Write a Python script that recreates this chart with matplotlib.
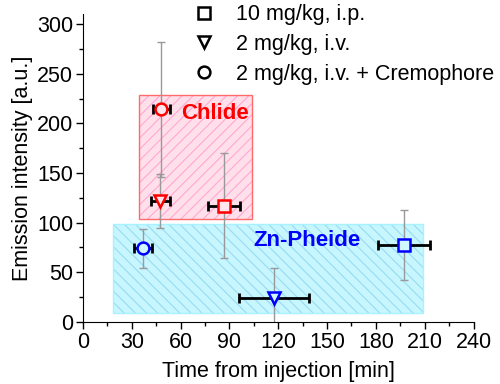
import matplotlib.pyplot as plt
from matplotlib.patches import Rectangle
from matplotlib.lines import Line2D
from matplotlib.ticker import MultipleLocator

plt.rcParams['font.family'] = ['Liberation Sans', 'DejaVu Sans']
plt.rcParams['hatch.linewidth'] = 0.8

# Chlide (red)
chl_x = [86.6, 47.6, 48.2]
chl_y = [116.8, 122, 214]
chl_xerr = [10, 6, 5.4]
chl_yerr = [53, 27, 68]

# Zn-Pheide (blue)
zn_x = [197, 117.4, 36.9]
zn_y = [77.2, 24, 73.9]
zn_xerr = [16, 21.7, 5.3]
zn_yerr = [35, 30, 20]

markers = ['s', 'v', 'o']
legend_labels = ['10 mg/kg, i.p.', '2 mg/kg, i.v.', '2 mg/kg, i.v. + Cremophore']

# shaded regions: (x0, x1, y0, y1)
chl_box = (34.5, 104, 104, 229)
zn_box = (18.3, 208.8, 9, 99)

fig = plt.figure(figsize=(5, 3.84), dpi=100)
ax = fig.add_axes([0.166, 0.162, 0.781, 0.801])


def add_box(box, fill, hatch_color, edge, hatch):
    x0, x1, y0, y1 = box
    ax.add_patch(Rectangle((x0, y0), x1 - x0, y1 - y0, facecolor=fill, edgecolor='none', zorder=1))
    ax.add_patch(Rectangle((x0, y0), x1 - x0, y1 - y0, facecolor='none', edgecolor=hatch_color,
                           hatch=hatch, linewidth=0, zorder=1.1))
    ax.add_patch(Rectangle((x0, y0), x1 - x0, y1 - y0, facecolor='none', edgecolor=edge,
                           linewidth=1, zorder=1.2))


add_box(chl_box, '#ffe0ea', '#ffa6d2', '#ff6a6a', '///')
add_box(zn_box, '#c8f6ff', '#96dcf2', '#a8f2ff', '\\\\\\')


def plot_series(xs, ys, xerr, yerr, color, face):
    for x, y, xe, ye, m in zip(xs, ys, xerr, yerr, markers):
        ax.errorbar(x, y, yerr=ye, fmt='none', ecolor='#999999', elinewidth=1,
                    capsize=3, capthick=1, zorder=2)
        ax.errorbar(x, y, xerr=xe, fmt='none', ecolor='black', elinewidth=2,
                    capsize=3.5, capthick=2, zorder=3)
        ax.plot(x, y, marker=m, markersize=8.5, markerfacecolor=face,
                markeredgecolor=color, markeredgewidth=1.8, linestyle='none', zorder=4)


plot_series(chl_x, chl_y, chl_xerr, chl_yerr, 'red', '#ffe6ee')
plot_series(zn_x, zn_y, zn_xerr, zn_yerr, 'blue', '#d2f8ff')

ax.text(81, 210, 'Chlide', color='red', fontsize=16, fontweight='bold', ha='center', va='center', zorder=5)
ax.text(137.5, 81.5, 'Zn-Pheide', color='blue', fontsize=16, fontweight='bold', ha='center', va='center', zorder=5)

handles = [Line2D([], [], marker=m, color='black', markerfacecolor='none', markersize=8.5,
                  markeredgewidth=1.8, linestyle='none') for m in markers]
ax.legend(handles, legend_labels, loc='upper left', bbox_to_anchor=(0.255, 1.06), frameon=False,
          fontsize=15.5, handlelength=1.2, handletextpad=0.9, labelspacing=0.4, borderaxespad=0)

ax.set_xlim(0, 240)
ax.set_ylim(0, 310)
ax.xaxis.set_major_locator(MultipleLocator(30))
ax.xaxis.set_minor_locator(MultipleLocator(15))
ax.yaxis.set_major_locator(MultipleLocator(50))
ax.yaxis.set_minor_locator(MultipleLocator(25))
ax.spines['top'].set_visible(False)
ax.spines['right'].set_visible(False)
ax.tick_params(which='major', direction='out', length=5, width=1, labelsize=15.5, pad=2)
ax.tick_params(which='minor', direction='out', length=3, width=1)
ax.set_xlabel('Time from injection [min]', fontsize=15.5, labelpad=6)
ax.set_ylabel('Emission intensity [a.u.]', fontsize=15.5, labelpad=3)

fig.savefig('out.png', dpi=100)
